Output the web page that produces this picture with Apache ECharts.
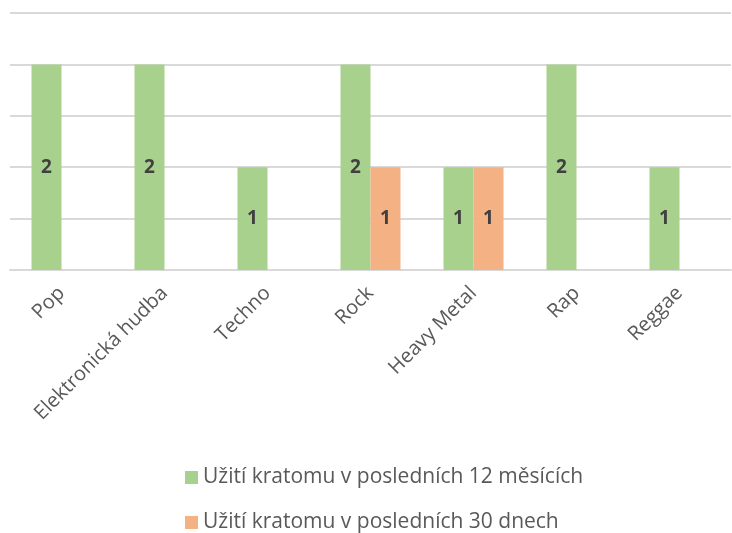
<!DOCTYPE html>
<html>
<head>
<meta charset="utf-8">
<script src="https://cdn.jsdelivr.net/npm/echarts@6/dist/echarts.min.js"></script>
<style>
  html, body { margin: 0; padding: 0; background: #fff; }
  #chart { width: 732px; height: 533px; }
</style>
</head>
<body>
<div id="chart"></div>
<script>
// žánry a hodnoty
const categories = ['Pop', 'Elektronická hudba', 'Techno', 'Rock', 'Heavy Metal', 'Rap', 'Reggae'];
const seriesNames = ['Užití kratomu v posledních 12 měsících', 'Užití kratomu v posledních 30 dnech'];
const last12Months = [2, 2, 1, 2, 1, 2, 1];
const last30Days = [null, null, null, 1, 1, null, null];

const chart = echarts.init(document.getElementById('chart'));

const labelStyle = {
  show: true,
  position: 'inside',
  color: '#404040',
  fontWeight: 'bold',
  fontSize: 19,
  fontFamily: 'Open Sans'
};

// jedna legenda na řádek (pod sebou)
const makeLegend = (name, top) => ({
  left: 180,
  top: top,
  itemWidth: 13,
  itemHeight: 13,
  itemGap: 7,
  icon: 'rect',
  textStyle: { color: '#595959', fontSize: 21, fontFamily: 'Open Sans' },
  data: [name]
});

const option = {
  animation: false,
  textStyle: { fontFamily: 'Open Sans' },
  grid: {
    left: 10,
    right: 1,
    top: 13,
    bottom: 263,
    containLabel: false
  },
  legend: [
    makeLegend(seriesNames[0], 462),
    makeLegend(seriesNames[1], 507)
  ],
  xAxis: {
    type: 'category',
    data: categories,
    axisLine: { lineStyle: { color: '#d9d9d9', width: 2 } },
    axisTick: { show: false },
    axisLabel: {
      rotate: 45,
      color: '#595959',
      fontSize: 20,
      margin: 20,
      interval: 0
    }
  },
  yAxis: {
    type: 'value',
    min: 0,
    max: 2.5,
    interval: 0.5,
    axisLabel: { show: false },
    axisLine: { show: false },
    axisTick: { show: false },
    splitLine: { lineStyle: { color: '#d9d9d9', width: 2 } }
  },
  series: [
    {
      name: seriesNames[0],
      type: 'bar',
      data: last12Months,
      barWidth: 30,
      barGap: '0%',
      itemStyle: { color: '#A9D18E' },
      label: labelStyle
    },
    {
      name: seriesNames[1],
      type: 'bar',
      data: last30Days,
      barWidth: 30,
      itemStyle: { color: '#F4B183' },
      label: labelStyle
    }
  ]
};

chart.setOption(option);
</script>
</body>
</html>
